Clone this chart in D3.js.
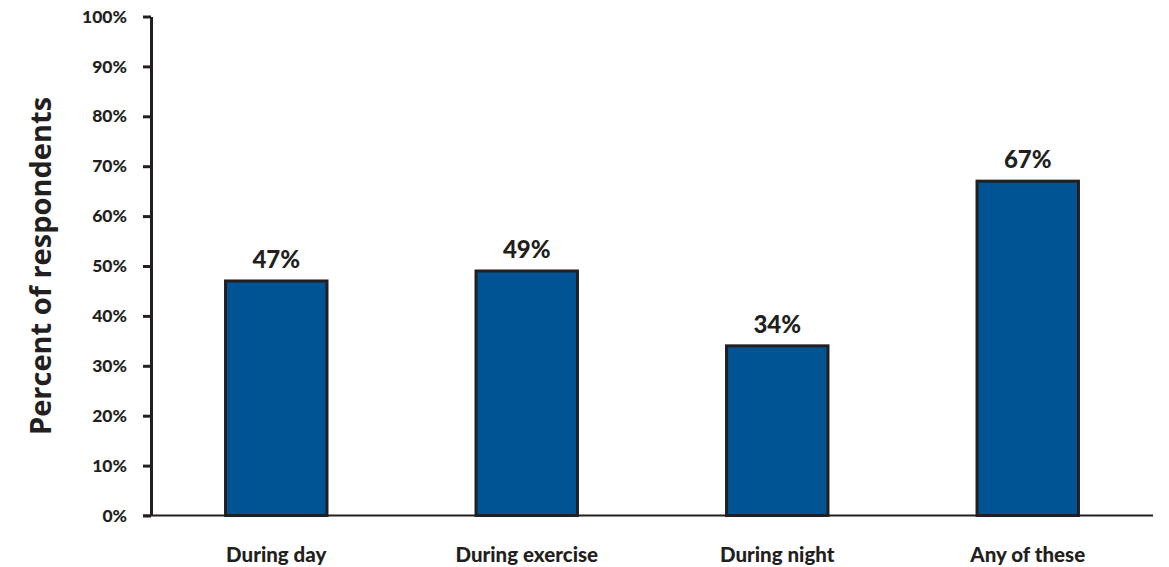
<!DOCTYPE html>
<html>
<head>
<meta charset="utf-8">
<script src="https://cdn.jsdelivr.net/npm/d3@7"></script>
<style>
  html, body { margin: 0; padding: 0; background: #fff; }
  svg { display: block; }
</style>
</head>
<body>
<svg id="chart" width="1169" height="567"></svg>
<script>
// Share of respondents per situation (percent)
const categories = ["During day", "During exercise", "During night", "Any of these"];
const values = [47, 49, 34, 67];
const yTicks = [0, 10, 20, 30, 40, 50, 60, 70, 80, 90, 100];

const svg = d3.select("#chart");
const plotLeft = 151, plotRight = 1153, plotTop = 16.5, plotBottom = 515.5;
const labelFont = "Lato, 'Open Sans', sans-serif";

const x = d3.scaleBand().domain(categories).range([plotLeft, plotRight]).paddingInner(0.595).paddingOuter(0.2975);
const y = d3.scaleLinear().domain([0, 100]).range([plotBottom, plotTop]);

// Bars
svg.append("g").selectAll("rect")
  .data(values)
  .join("rect")
  .attr("x", (d, i) => x(categories[i]))
  .attr("y", d => y(d))
  .attr("width", x.bandwidth())
  .attr("height", d => y(0) - y(d))
  .attr("fill", "#005494")
  .attr("stroke", "#231f20")
  .attr("stroke-width", 3);

// Value labels
svg.append("g").selectAll("text")
  .data(values)
  .join("text")
  .attr("x", (d, i) => x(categories[i]) + x.bandwidth() / 2)
  .attr("y", d => y(d) - 13)
  .attr("text-anchor", "middle")
  .attr("font-family", labelFont)
  .attr("font-weight", 900)
  .attr("font-size", 24)
  .attr("fill", "#231f20")
  .text(d => d + "%");

// X axis baseline
svg.append("line")
  .attr("x1", plotLeft - 8).attr("x2", plotRight)
  .attr("y1", plotBottom).attr("y2", plotBottom)
  .attr("stroke", "#231f20").attr("stroke-width", 2);

// Y axis
const yAxis = svg.append("g")
  .attr("transform", `translate(${plotLeft},0)`)
  .call(d3.axisLeft(y).tickValues(yTicks).tickFormat(d => d + "%").tickSizeOuter(0).tickSizeInner(8).tickPadding(16));
yAxis.select(".domain").attr("stroke", "#231f20").attr("stroke-width", 3);
yAxis.selectAll(".tick line").attr("stroke", "#231f20").attr("stroke-width", 3);
yAxis.selectAll(".tick text")
  .attr("font-family", labelFont)
  .attr("font-weight", 900)
  .attr("font-size", 17.5)
  .attr("fill", "#231f20");

// Category labels
svg.append("g").selectAll("text")
  .data(categories)
  .join("text")
  .attr("x", d => x(d) + x.bandwidth() / 2)
  .attr("y", 562)
  .attr("text-anchor", "middle")
  .attr("font-family", labelFont)
  .attr("font-weight", 900)
  .attr("font-size", 20.5)
  .attr("fill", "#231f20")
  .text(d => d);

// Y axis title
svg.append("text")
  .attr("transform", "translate(51,266) rotate(-90)")
  .attr("text-anchor", "middle")
  .attr("font-family", "'Open Sans', sans-serif")
  .attr("font-weight", 700)
  .attr("font-size", 29)
  .attr("fill", "#231f20")
  .text("Percent of respondents");
</script>
</body>
</html>
